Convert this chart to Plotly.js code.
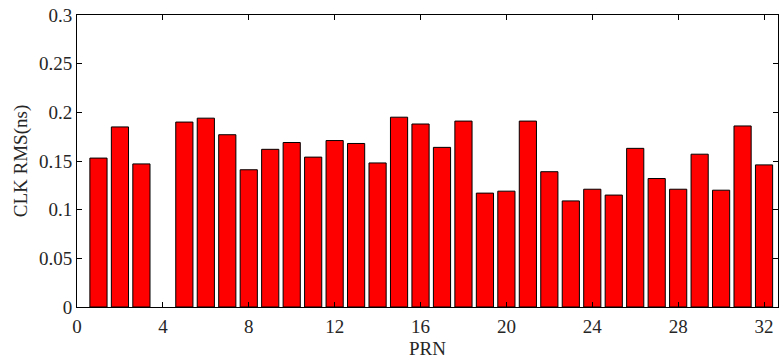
<!DOCTYPE html>
<html>
<head>
<meta charset="utf-8">
<script src="https://cdn.plot.ly/plotly-3.0.1.min.js"></script>
<style>html,body{margin:0;padding:0;background:#fff;}#chart{width:779px;height:363px;}</style>
</head>
<body>
<div id="chart"></div>
<script>
const prn = [1,2,3,4,5,6,7,8,9,10,11,12,13,14,15,16,17,18,19,20,21,22,23,24,25,26,27,28,29,30,31,32];
const clkRms = [0.153,0.185,0.147,null,0.190,0.194,0.177,0.141,0.162,0.169,0.154,0.171,0.168,0.148,0.195,0.188,0.164,0.191,0.117,0.119,0.191,0.139,0.109,0.121,0.115,0.163,0.132,0.121,0.157,0.120,0.186,0.146];
const xTicks = [0,4,8,12,16,20,24,28,32];
const yTicks = [0,0.05,0.1,0.15,0.2,0.25,0.3];
const yTickText = ['0','0.05','0.1','0.15','0.2','0.25','0.3'];

const font = {family: '"Liberation Serif", "Times New Roman", serif', size: 19, color: '#262626'};

Plotly.newPlot('chart', [{
  type: 'bar',
  x: prn,
  y: clkRms,
  width: 0.8,
  marker: {color: '#ff0000', line: {color: '#000000', width: 1}}
}], {
  width: 779, height: 363,
  margin: {l: 77, r: 1, t: 15, b: 56},
  paper_bgcolor: '#fff', plot_bgcolor: '#fff',
  font: font,
  showlegend: false,
  xaxis: {
    range: [0, 32.65], tickvals: xTicks, ticks: 'inside', ticklen: 5, tickcolor: '#000',
    showline: true, linecolor: '#000', linewidth: 1, mirror: 'ticks', showgrid: false, zeroline: false,
    ticklabelstandoff: 2,
    title: {text: 'PRN', font: font, standoff: 5}, tickfont: font
  },
  yaxis: {
    range: [0, 0.3], tickvals: yTicks, ticktext: yTickText, ticks: 'inside', ticklen: 5, tickcolor: '#000',
    showline: true, linecolor: '#000', linewidth: 1, mirror: 'ticks', showgrid: false, zeroline: false,
    title: {text: 'CLK RMS(ns)', font: font, standoff: 6}, tickfont: font
  }
}, {staticPlot: true});
</script>
</body>
</html>
